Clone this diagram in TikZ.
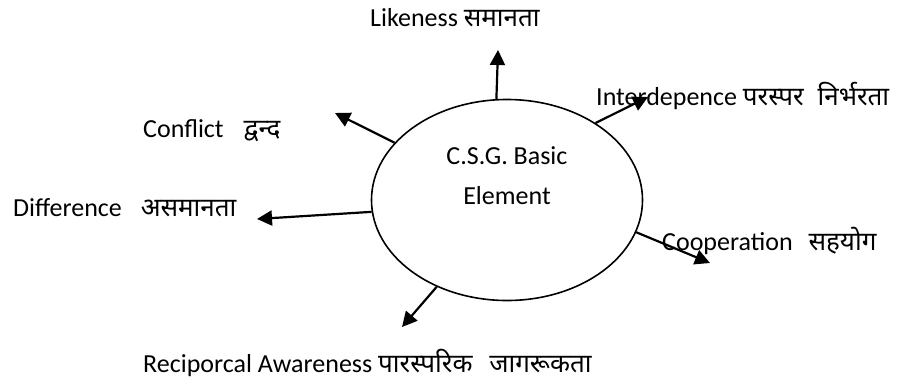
\documentclass[tikz,border=0pt]{standalone}
\usepackage{fontspec}
\setmainfont{Carlito}
\newfontfamily\devfont[Script=Devanagari]{Noto Sans}
\usepackage{tikz}
\usetikzlibrary{arrows.meta,shapes.geometric}
\tikzset{element style/.style = {%
  draw = black,
  line width = 1.6pt,
  shape = ellipse,
  inner sep = 0pt,
  minimum width = 271pt,
  minimum height = 201pt
 },
 label style/.style = {%
  anchor = base west,
  inner sep = 0pt,
  font = \fontsize{26}{31}\selectfont
 },
 link style/.style = {%
  line width = 2.2pt,
  -{Triangle[length=15pt,width=15pt]}
 }
}

\begin{document}
\begin{tikzpicture}[x=1pt,y=-1pt]
      \useasboundingbox (0,0) rectangle (901,381);

      \node[element style] (csg) at (507,200) {};
      \node[align=center,font=\fontsize{26}{40}\selectfont] (csgtext) at (507,176) {C.S.G. Basic\\Element};

      \coordinate (likeTip) at (498,50);
      \coordinate (conflictTip) at (335,113);
      \coordinate (interTip) at (648,97);
      \coordinate (diffTip) at (257,219);
      \coordinate (coopTip) at (710,263);
      \coordinate (recipTip) at (402,327);

      \node[label style] (like) at (370,26) {Likeness {\devfont समानता}};
      \node[label style] (inter) at (596,105) {Interdepence {\devfont परस्पर\hspace{7pt} निर्भरता}};
      \node[label style] (conflict) at (143,137) {Conflict\hspace{14pt} {\devfont द्वन्द}};
      \node[label style] (diff) at (13,216) {Difference\hspace{13pt} {\devfont असमानता}};
      \node[label style] (coop) at (662,250) {Cooperation\hspace{10pt} {\devfont सहयोग}};
      \node[label style] (recip) at (143,372) {Reciporcal Awareness {\devfont पारस्परिक\hspace{10pt} जागरूकता}};

      \draw[link style] (csg.96) -- (likeTip);
      \draw[link style] (csg.153) -- (conflictTip);
      \draw[link style] (csg.41) -- (interTip);
      \draw[link style] (csg.185) -- (diffTip);
      \draw[link style] (csg.346) -- (coopTip);
      \draw[link style] (csg.231) -- (recipTip);
     \end{tikzpicture}
\end{document}
